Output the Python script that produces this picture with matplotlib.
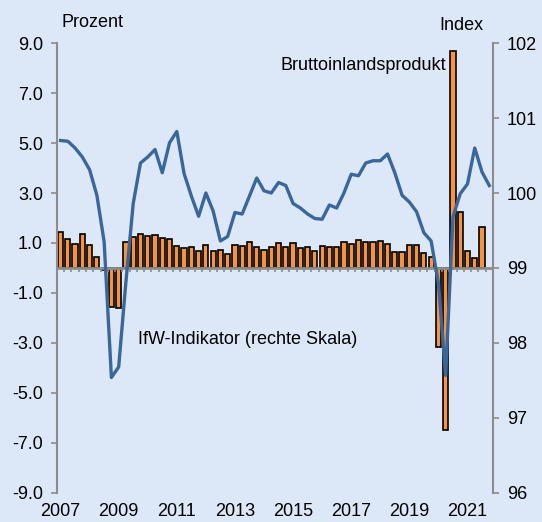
import numpy as np
import matplotlib
matplotlib.use("Agg")
import matplotlib.pyplot as plt

plt.rcParams['font.family'] = ['Liberation Sans', 'DejaVu Sans']

# quarterly data 2007Q1 - 2021Q4
years = list(range(2007, 2022))
quarters = [f"{y}Q{q}" for y in years for q in range(1, 5)]
tick_labels = ['2007', '2009', '2011', '2013', '2015', '2017', '2019', '2021']

# Bruttoinlandsprodukt, Veraenderung in Prozent (left axis), last quarter not yet available
bip = [1.45, 1.15, 0.97, 1.35, 0.91, 0.43, -0.10, -1.55, -1.60, 1.05,
       1.23, 1.36, 1.29, 1.31, 1.20, 1.17, 0.88, 0.81, 0.83, 0.67,
       0.92, 0.69, 0.72, 0.55, 0.92, 0.88, 1.03, 0.85, 0.72, 0.85,
       1.01, 0.85, 1.01, 0.79, 0.84, 0.69, 0.89, 0.84, 0.83, 1.04,
       0.97, 1.11, 1.03, 1.04, 1.06, 0.95, 0.63, 0.65, 0.91, 0.91,
       0.59, 0.43, -3.15, -6.50, 8.70, 2.23, 0.68, 0.41, 1.65, np.nan]

# IfW-Indikator (right axis, Index)
ifw = [100.70, 100.69, 100.60, 100.48, 100.31, 99.97, 99.35, 97.54, 97.68, 98.82,
       99.86, 100.40, 100.48, 100.58, 100.27, 100.67, 100.82, 100.26, 99.96, 99.69,
       100.00, 99.76, 99.36, 99.42, 99.74, 99.72, 99.96, 100.20, 100.03, 100.00,
       100.14, 100.10, 99.86, 99.80, 99.72, 99.66, 99.65, 99.84, 99.80, 100.00,
       100.25, 100.23, 100.40, 100.43, 100.43, 100.52, 100.27, 99.97, 99.88, 99.75,
       99.47, 99.36, 98.80, 97.57, 99.68, 99.99, 100.12, 100.60, 100.28, 100.10]

bg = '#DCE8F7'
orange = '#F7923F'
blue = '#3A679B'
gray = '#8C8C8C'

fig = plt.figure(figsize=(5.42, 5.22), dpi=100, facecolor=bg)
ax = fig.add_axes([0.105, 0.0556, 0.8044, 0.862])
ax.set_facecolor(bg)

x = np.arange(len(quarters))
ax.bar(x, bip, width=0.72, color=orange, edgecolor='black', linewidth=1.2, zorder=2)
ax.axhline(0, color=gray, lw=2, zorder=3)
ax.vlines(x[1:] - 0.5, -0.17, 0, color=gray, lw=1.2, zorder=3)

ax.set_xlim(-0.5, len(quarters) - 0.5)
ax.set_ylim(-9, 9)
ax.set_yticks(np.arange(-9, 10, 2))
ax.set_yticklabels([f"{v:.1f}" for v in np.arange(-9, 10, 2)])
ax.set_xticks([quarters.index(l + 'Q1') for l in tick_labels])
ax.set_xticklabels(tick_labels)
ax.tick_params(axis='x', length=0, pad=7.5, labelsize=13)
ax.tick_params(axis='y', direction='out', length=4, width=1.2, color=gray, labelsize=13, pad=6)
for s in ['top', 'bottom', 'right']:
    ax.spines[s].set_visible(False)
ax.spines['left'].set_color(gray)
ax.spines['left'].set_linewidth(1.5)

ax2 = ax.twinx()
ax2.plot(x, ifw, color=blue, lw=2.4, zorder=4)
ax2.set_ylim(96, 102)
ax2.set_yticks(np.arange(96, 103, 1))
ax2.tick_params(axis='y', direction='out', length=4, width=1.2, color=gray, labelsize=13, pad=6)
for s in ['top', 'bottom', 'left']:
    ax2.spines[s].set_visible(False)
ax2.spines['right'].set_color(gray)
ax2.spines['right'].set_linewidth(1.5)

ax.text(0.892, 0.949, 'Bruttoinlandsprodukt', transform=ax.transAxes,
        ha='right', va='center', fontsize=13, zorder=5)
ax.text(0.186, 0.34, 'IfW-Indikator (rechte Skala)', transform=ax.transAxes,
        ha='left', va='center', fontsize=13, zorder=5)
fig.text(0.114, 0.957, 'Prozent', ha='left', va='center', fontsize=13)
fig.text(0.81, 0.952, 'Index', ha='left', va='center', fontsize=13)

fig.savefig('out.png', dpi=100, facecolor=bg)
